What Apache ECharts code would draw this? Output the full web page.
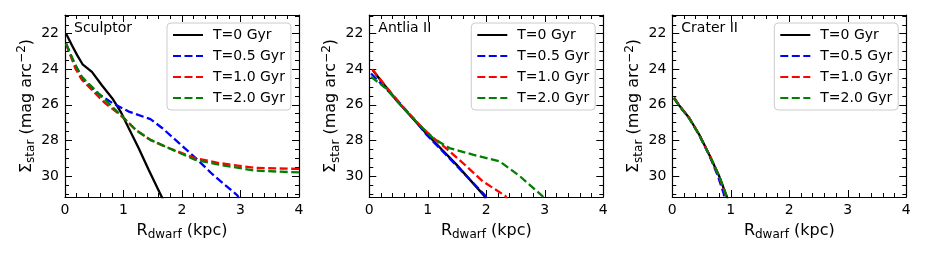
<!DOCTYPE html>
<html>
<head>
<meta charset="utf-8">
<script src="https://cdn.jsdelivr.net/npm/echarts@6/dist/echarts.min.js"></script>
<style>html,body{margin:0;padding:0;background:#fff}#c{width:926px;height:258px}</style>
</head>
<body>
<div id="c"></div>
<script>
// ---- data (x in kpc, y in mag arcsec^-2) ----
var panelNames = ['Sculptor', 'Antlia II', 'Crater II'];
var seriesNames = ['T=0 Gyr', 'T=0.5 Gyr', 'T=1.0 Gyr', 'T=2.0 Gyr'];
var xTicks = [0, 1, 2, 3, 4];
var yTickLabels = [22, 24, 26, 28, 30];
var yMinorTicks = [21, 21.5, 22, 22.5, 23, 23.5, 24, 24.5, 25, 25.5, 26, 26.5, 27, 27.5, 28, 28.5, 29, 29.5, 30, 30.5, 31];

var sculptorT0 = [[0.02,22.0],[0.12,22.66],[0.21,23.22],[0.30,23.72],[0.46,24.15],[0.63,24.9],[0.81,25.64],[0.95,26.38],[1.09,27.32],[1.26,28.44],[1.43,29.65],[1.65,31.15],[1.7,31.5]];
var sculptorT05 = [[0.02,22.57],[0.12,23.4],[0.29,24.5],[0.52,25.27],[0.81,25.9],[1.09,26.38],[1.46,26.8],[1.66,27.3],[1.95,28.15],[2.23,28.98],[2.52,29.9],[2.95,31.1],[3.0,31.5]];
var sculptorT1 = [[0.02,22.57],[0.18,23.97],[0.29,24.6],[0.52,25.36],[0.69,25.92],[0.98,26.66],[1.21,27.41],[1.46,27.97],[1.78,28.44],[2.23,29.0],[2.63,29.27],[3.26,29.55],[4.0,29.6]];
var sculptorT2 = [[0.02,22.57],[0.18,23.78],[0.29,24.43],[0.52,25.18],[0.69,25.74],[0.98,26.66],[1.21,27.41],[1.46,27.97],[1.78,28.44],[2.23,29.1],[2.69,29.4],[3.26,29.7],[4.0,29.8]];

var antliaT0 = [[0.06,24.06],[0.46,25.73],[0.97,27.6],[1.49,29.36],[1.97,31.13],[2.0,31.5]];
var antliaT05 = [[0.03,24.24],[0.46,25.68],[0.80,26.94],[0.97,27.65],[1.31,28.8],[1.66,30.0],[1.99,31.13],[2.02,31.5]];
var antliaT1 = [[0.05,24.0],[0.29,24.99],[0.57,26.1],[0.91,27.3],[1.09,27.84],[1.37,28.6],[1.66,29.45],[1.94,30.3],[2.33,31.13],[2.38,31.5]];
var antliaT2 = [[0.03,24.43],[0.29,25.08],[0.51,25.92],[0.80,26.94],[1.09,27.87],[1.37,28.43],[1.77,28.8],[2.23,29.18],[2.57,30.0],[2.96,31.13],[3.0,31.5]];

var craterT0 = [[0.03,25.62],[0.11,26.0],[0.29,26.74],[0.46,27.67],[0.63,28.79],[0.80,30.0],[0.93,31.15],[0.96,31.5]];
var craterT05 = [[0.03,25.6],[0.11,26.0],[0.29,26.76],[0.46,27.7],[0.63,28.82],[0.78,30.0],[0.88,31.0],[0.9,31.5]];
var craterT1 = [[0.03,25.6],[0.11,26.0],[0.29,26.74],[0.46,27.67],[0.63,28.79],[0.80,30.0],[0.92,31.15],[0.95,31.5]];
var craterT2 = [[0.03,25.65],[0.11,26.02],[0.29,26.76],[0.46,27.69],[0.63,28.8],[0.80,30.0],[0.93,31.15],[0.96,31.5]];

var panelData = [
  [sculptorT0, sculptorT05, sculptorT1, sculptorT2],
  [antliaT0, antliaT05, antliaT1, antliaT2],
  [craterT0, craterT05, craterT1, craterT2]
];

// ---- layout / style ----
var gridLefts = [65, 369.3, 672.3];
var gridW = 234, gridTop = 15, gridH = 182;
var colors = ['#000000', '#0000ff', '#ff0000', '#008000'];
var font = 'DejaVu Sans';
var yMin = 20.95, yMax = 31.18;

var grids = [], xAxes = [], yAxes = [], series = [], legends = [], titles = [];
var axisLine = {show: true, lineStyle: {color: '#000', width: 1.2}};

for (var p = 0; p < 3; p++) {
  grids.push({left: gridLefts[p], top: gridTop, width: gridW, height: gridH, containLabel: false});
  var xBase = {
    gridIndex: p, type: 'value', min: 0, max: 4, interval: 1,
    axisLine: axisLine,
    axisTick: {show: true, inside: true, length: 7, lineStyle: {color: '#000', width: 1}},
    minorTick: {show: true, splitNumber: 5, length: 4, lineStyle: {color: '#000', width: 1}},
    splitLine: {show: false}
  };
  xAxes.push(Object.assign({}, xBase, {
    position: 'bottom',
    axisLabel: {show: true, fontFamily: font, fontSize: 14, color: '#000', margin: 6},
    name: 'R{sub|dwarf} (kpc)', nameLocation: 'middle', nameGap: 23,
    nameTextStyle: {fontFamily: font, fontSize: 16, color: '#000',
      rich: {sub: {fontFamily: font, fontSize: 12, color: '#000', padding: [9, 0, 0, 0]}}}
  }));
  xAxes.push(Object.assign({}, xBase, {position: 'top', axisLabel: {show: false}}));

  var yBase = {gridIndex: p, type: 'value', min: yMin, max: yMax, inverse: true, splitLine: {show: false}};
  // left major
  yAxes.push(Object.assign({}, yBase, {
    position: 'left',
    axisLine: axisLine,
    axisTick: {show: true, inside: true, length: 7, customValues: yTickLabels, lineStyle: {color: '#000', width: 1}},
    axisLabel: {show: true, customValues: yTickLabels, fontFamily: font, fontSize: 14, color: '#000', margin: 6},
    name: 'Σ{sub|star} (mag arc{sup|−2})', nameLocation: 'middle', nameGap: 25, nameRotate: 90,
    nameTextStyle: {fontFamily: font, fontSize: 16, color: '#000',
      rich: {
        sub: {fontFamily: font, fontSize: 12, color: '#000', padding: [9, 0, 0, 0]},
        sup: {fontFamily: font, fontSize: 12, color: '#000', padding: [0, 0, 9, 0]}
      }}
  }));
  // left minor
  yAxes.push(Object.assign({}, yBase, {
    position: 'left', axisLine: {show: false}, axisLabel: {show: false},
    axisTick: {show: true, inside: true, length: 4, customValues: yMinorTicks, lineStyle: {color: '#000', width: 1}}
  }));
  // right major
  yAxes.push(Object.assign({}, yBase, {
    position: 'right', axisLine: axisLine, axisLabel: {show: false},
    axisTick: {show: true, inside: true, length: 7, customValues: yTickLabels, lineStyle: {color: '#000', width: 1}}
  }));
  // right minor
  yAxes.push(Object.assign({}, yBase, {
    position: 'right', axisLine: {show: false}, axisLabel: {show: false},
    axisTick: {show: true, inside: true, length: 4, customValues: yMinorTicks, lineStyle: {color: '#000', width: 1}}
  }));

  for (var s = 0; s < 4; s++) {
    series.push({
      type: 'line', name: seriesNames[s], xAxisIndex: 2 * p, yAxisIndex: 4 * p,
      data: panelData[p][s], showSymbol: false, symbol: 'none', smooth: false, clip: true,
      lineStyle: {color: colors[s], width: 2.3, type: s === 0 ? 'solid' : [8, 3.5]},
      itemStyle: {color: colors[s]},
      z: 2 + s, animation: false
    });
  }

  legends.push({
    orient: 'vertical', left: gridLefts[p] + 102, top: 23,
    data: seriesNames, itemWidth: 30, itemHeight: 14, itemGap: 7,
    padding: [5, 6, 5, 5],
    itemStyle: {opacity: 0, borderWidth: 0},
    backgroundColor: 'rgba(255,255,255,0.8)', borderColor: '#cccccc', borderWidth: 1, borderRadius: 4,
    textStyle: {fontFamily: font, fontSize: 14, color: '#000', padding: [0, 0, 0, 5]},
    selectedMode: false, z: 20
  });

  titles.push({
    text: panelNames[p], left: gridLefts[p] + 9, top: 21, padding: 0,
    textStyle: {fontFamily: font, fontSize: 14, fontWeight: 'normal', color: '#000'}
  });
}

var chart = echarts.init(document.getElementById('c'), null, {renderer: 'canvas'});
chart.setOption({
  animation: false,
  backgroundColor: '#fff',
  title: titles,
  grid: grids,
  xAxis: xAxes,
  yAxis: yAxes,
  legend: legends,
  series: series
});
</script>
</body>
</html>
